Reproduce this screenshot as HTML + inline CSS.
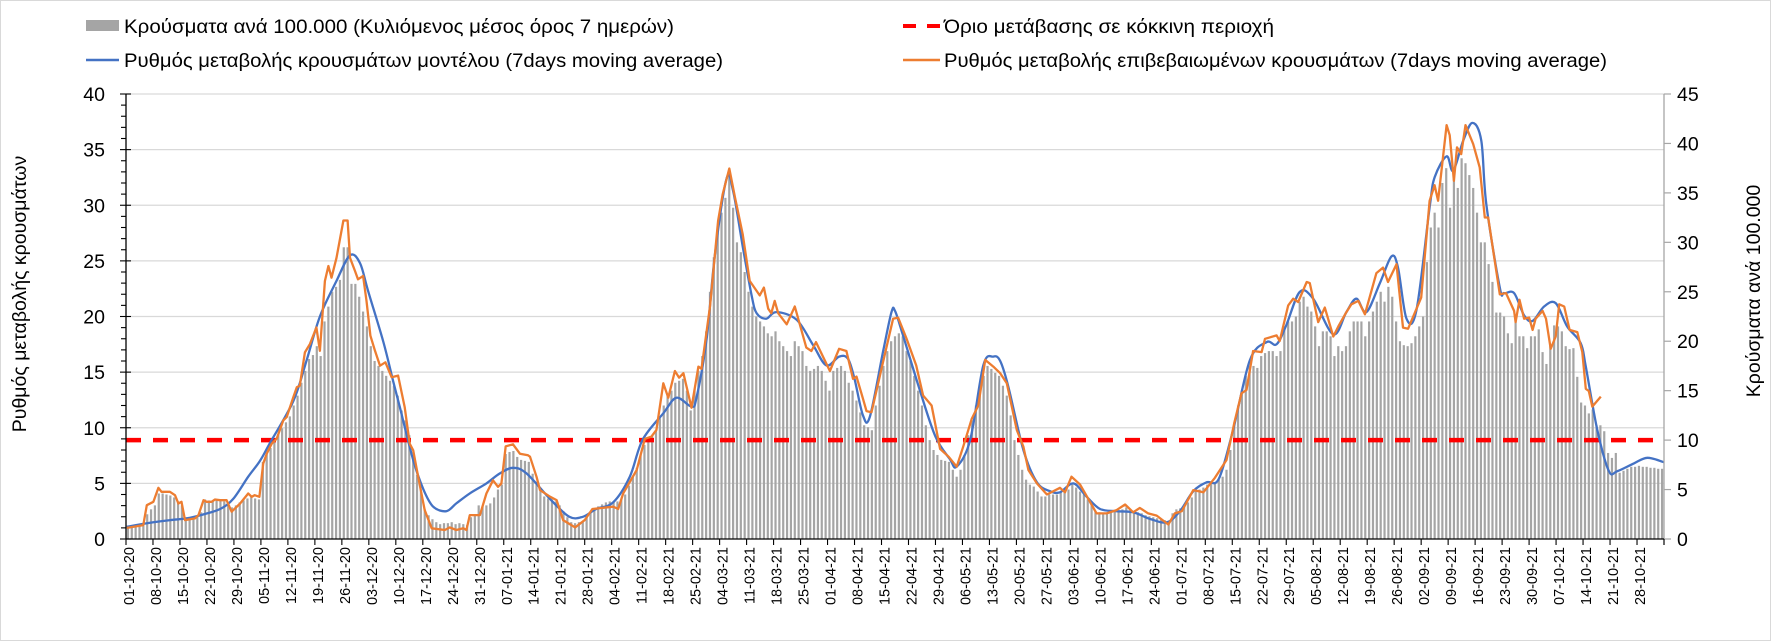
<!DOCTYPE html>
<html><head><meta charset="utf-8">
<style>
html,body{margin:0;padding:0;background:#fff;}
svg{display:block;font-family:"Liberation Sans","DejaVu Sans",sans-serif;}
</style></head>
<body>
<svg id="chart" width="1771" height="641" viewBox="0 0 1771 641" xmlns="http://www.w3.org/2000/svg">
<rect x="0.5" y="0.5" width="1770" height="640" fill="#fff" stroke="#d9d9d9"/>
<g id="legend" font-size="19.5" fill="#000">
  <g>
    <rect x="86" y="20" width="33" height="11" fill="#a5a5a5"/>
    <text x="124" y="33" textLength="550" lengthAdjust="spacingAndGlyphs">Κρούσματα ανά 100.000 (Κυλιόμενος μέσος όρος 7 ημερών)</text>
  </g>
  <g>
    <line x1="86" y1="60" x2="119" y2="60" stroke="#4472c4" stroke-width="2.5"/>
    <text x="124" y="67" textLength="599" lengthAdjust="spacingAndGlyphs">Ρυθμός μεταβολής κρουσμάτων μοντέλου (7days moving average)</text>
  </g>
  <g>
    <line x1="903" y1="26" x2="940" y2="26" stroke="#ff0000" stroke-width="4" stroke-dasharray="13,11"/>
    <text x="944" y="33" textLength="330" lengthAdjust="spacingAndGlyphs">Όριο μετάβασης σε κόκκινη περιοχή</text>
  </g>
  <g>
    <line x1="903" y1="60" x2="940" y2="60" stroke="#ed7d31" stroke-width="2.5"/>
    <text x="944" y="67" textLength="663" lengthAdjust="spacingAndGlyphs">Ρυθμός μεταβολής επιβεβαιωμένων κρουσμάτων (7days moving average)</text>
  </g>
</g>
<text font-size="19.5" text-anchor="middle" transform="translate(26,294) rotate(-90)">Ρυθμός μεταβολής κρουσμάτων</text>
<text font-size="19.5" text-anchor="middle" transform="translate(1760,291) rotate(-90)">Κρούσματα ανά 100.000</text>
<g id="grid"></g>
<g id="bars"></g>
<g id="thresh"></g>
<g id="lines"></g>
<g id="axes"></g>
</svg>
<script>
const leftTicks = [0,5,10,15,20,25,30,35,40];
const rightTicks = [0,5,10,15,20,25,30,35,40,45];
const dateLabels = ["01-10-20","08-10-20","15-10-20","22-10-20","29-10-20","05-11-20","12-11-20","19-11-20","26-11-20","03-12-20","10-12-20","17-12-20","24-12-20","31-12-20","07-01-21","14-01-21","21-01-21","28-01-21","04-02-21","11-02-21","18-02-21","25-02-21","04-03-21","11-03-21","18-03-21","25-03-21","01-04-21","08-04-21","15-04-21","22-04-21","29-04-21","06-05-21","13-05-21","20-05-21","27-05-21","03-06-21","10-06-21","17-06-21","24-06-21","01-07-21","08-07-21","15-07-21","22-07-21","29-07-21","05-08-21","12-08-21","19-08-21","26-08-21","02-09-21","09-09-21","16-09-21","23-09-21","30-09-21","07-10-21","14-10-21","21-10-21","28-10-21"];
const thresholdCases = 10;
const casesPer100k = [
1.1,1.2,1.3,1.3,1.4,2.5,3.0, 3.4,4.6,4.6,4.5,4.4,4.2,3.8, 3.4,2.2,2.0,2.1,2.4,2.7,4.0,
3.9,3.8,3.9,4.0,3.8,3.6,3.2, 3.4,3.7,3.9,4.1,4.3,4.1,4.0, 7.8,8.6,9.2,10.0,10.6,11.2,11.8,
12.4,13.5,14.5,15.8,17.0,18.2,18.6, 19.5,18.5,22.0,23.5,25.0,25.5,26.2, 29.5,29.5,25.8,25.8,24.5,23.0,21.5,
19.5,18.0,17.5,17.0,16.5,16.0,15.5, 14.5,13.0,12.0,10.5,8.5,6.5,5.0, 3.0,2.4,2.0,1.7,1.5,1.6,1.6,
1.7,1.5,1.6,1.5,1.4,2.2,2.4, 3.4,3.3,3.4,3.6,4.2,5.0,5.5, 8.6,8.8,8.9,8.3,8.0,7.9,7.8,
6.6,5.8,5.0,4.3,4.1,4.0,3.8, 3.4,2.8,2.2,1.7,1.6,1.7,1.8, 2.2,2.7,3.0,3.3,3.5,3.7,3.8,
3.8,3.8,4.0,4.5,5.4,6.3,7.2, 8.5,9.5,10.2,10.5,11.0,12.2,13.5, 14.5,15.0,15.8,16.0,16.2,15.0,13.0,
15.2,17.0,18.5,21.0,25.0,28.5,31.0, 33.0,34.5,37.0,33.5,30.0,29.0,27.0, 25.0,23.5,22.5,22.0,21.5,20.8,20.5,
21.0,20.0,19.5,19.0,18.5,20.0,19.5, 19.0,17.5,17.0,17.2,17.5,17.0,16.0, 15.0,17.0,17.3,17.5,17.0,15.8,15.0,
14.0,12.8,11.5,11.3,11.0,13.5,15.5, 17.5,19.0,20.0,20.5,20.8,20.5,19.0, 18.0,16.5,15.0,13.5,11.5,10.0,9.0,
8.5,8.0,7.9,7.8,7.0,6.3,7.0, 8.5,10.5,12.0,13.5,15.0,16.5,17.5, 17.2,16.8,16.5,15.5,14.5,12.5,10.0,
8.5,7.0,6.0,5.5,5.3,4.8,4.3, 4.3,4.5,4.5,4.5,4.8,5.0,5.0, 5.5,5.2,4.8,4.5,4.0,3.5,2.8,
2.7,2.6,2.6,2.8,2.8,2.9,3.0, 3.2,2.9,2.8,2.7,2.6,2.4,2.3, 2.2,2.1,2.0,1.9,1.8,2.6,3.0,
3.1,3.3,3.7,4.2,4.8,5.0,5.2, 5.5,5.6,5.7,6.0,6.3,7.0,9.0, 11.5,13.5,15.0,16.5,17.5,17.5,17.3,
18.5,18.8,19.0,19.0,18.5,19.0,21.5, 22.0,22.0,22.5,24.0,24.5,23.5,23.0, 21.5,19.5,21.0,21.0,20.5,18.5,19.5,
19.0,19.5,21.0,22.0,22.0,22.0,20.5, 22.0,23.0,24.0,25.0,24.0,25.5,24.5, 22.0,20.0,19.6,19.5,19.8,20.5,21.5,
22.5,28.0,31.5,33.0,31.5,36.0,37.5, 33.5,37.0,35.5,38.5,38.0,36.8,35.5, 33.0,30.0,30.0,27.8,26.0,22.9,22.9,
22.5,20.8,19.8,22.1,20.5,20.5,19.3, 20.5,20.5,21.2,18.9,17.7,19.6,21.6, 21.5,21.0,19.5,19.2,19.3,16.4,13.8,
13.5,12.7,13.1,11.5,11.5,10.9,8.7, 8.2,8.7,6.7,6.9,7.1,7.3,7.3, 7.4,7.3,7.3,7.2,7.2,7.1,7.1];
const modelDays = [0.2,7.1,11.5,15.7,20,24.4,27.8,31.7,34.7,37.3,43.4,46.8,50.3,54.6,58.1,60.7,62.8,66.7,69.3,71,74.5,77.1,79.7,83.1,85.7,89.2,93.5,97,100.4,103.9,
110,115,118.5,122,126.4,130.7,134,139.4,142.8,146.7,148,150.6,152.8,155.8,157.5,160,162.3,163.6,166.1,168.7,174,178.3,181.7,185,187.3,189,191.2,193,196.5,198.6,199.5,201.5,206,210,213.7,
215.5,219,222.4,225,226.8,228.9,232.8,236.3,239.7,242.3,245.8,249.2,252.7,257,261.3,265.7,270,273.4,276.9,280.3,283.5,287.2,291.6,295.9,298.5,301,304.5,308,313.2,316.6,319.2,321.8,325.3,328.3,330,332.2,334.8,338.2,339.5,342.6,344.3,346.9,349.3,351.6,352.9,356.4,
357.5,360.1,362.7,364.9,367.9,370.9,373.9,377.4,378.7,381.7,384.7,386.9,391.2,394.7,399];
const modelRate = [1.1,1.5,1.7,1.85,2.2,2.7,3.6,5.6,7.0,8.6,12.4,16.0,20.0,23.2,25.5,24.8,22.3,17.8,14.2,11.9,7.1,4.5,2.9,2.5,3.2,4.1,5.0,5.9,6.4,5.9,
3.6,2.0,2.0,2.7,3.3,5.6,8.9,11.3,12.7,11.9,12.7,17.9,25.6,32.4,31.3,26.3,21.9,20.3,19.8,20.4,19.7,17.4,15.6,16.4,16.2,14.4,11.1,11.0,17.0,20.4,20.5,18.4,13.3,9.2,7.2,
6.5,8.9,15.6,16.4,16.0,13.7,8.0,5.1,4.3,4.2,5.0,3.8,2.7,2.5,2.4,1.8,1.5,2.5,4.3,5.1,5.4,9.8,16.1,17.7,17.5,19.2,22.2,21.6,18.4,20.4,21.6,20.4,23.0,25.4,24.4,19.8,20.6,29.8,32.5,34.4,33.1,35.8,37.4,35.8,30.1,22.6,
22.1,22.1,20.1,19.6,20.9,21.2,19.1,17.6,15.5,9.8,6.1,6.1,6.8,7.3,6.9];
const confirmedDays = [0.2,4.5,5.4,7.1,8.4,9.2,11.4,12.7,13.6,14.4,15.3,17.9,18.8,20.1,20.9,22.2,23.1,24.4,26.1,27.4,29.6,31.7,32.6,33.4,34.6,35.6,36.5,37.8,39.1,40.8,41.7,43.4,44.3,45.1,46.4,47.7,49.4,50.3,51.6,52.5,53.3,54.6,56.4,57.5,58.1,59.4,60.2,61.5,62.4,63.4,64.6,65.9,67.3,68.9,70.6,72.3,73.6,74.5,75.8,77.5,79.3,82.7,84,85.7,87.5,88.3,89.2,91.8,93.5,95.2,96.5,97.4,98.5,100.4,102.2,104.3,
104.8,106.5,107.4,110,111.7,113.4,116.5,119,121,126.4,127.7,129,132.5,134.6,136.3,137.6,139.4,140.7,142.4,143.5,144.6,146.7,148.5,149.3,151.5,153.6,154.8,156.5,158,160,161.8,164.4,165.5,166.6,167.4,168.3,169.2,171.4,173.5,176.5,177.8,179,182.6,185,186.9,188.6,189.5,191.2,192.1,193.4,196,199,200.3,202.5,205,206.8,209,211.2,
213.4,215.5,217.2,219.4,221.1,222.9,225,226.8,228.5,231.1,232.8,234.1,236.3,238.9,242.3,243.6,245.3,247.5,251.8,254.4,257,259.2,261.3,263,265.2,267.4,270.4,272.1,273.9,276.9,279.5,282.5,285.5,287.5,289.4,290.7,292.4,294.6,295.5,298.5,299.3,301.5,302.8,304.1,306.3,307.1,309.3,311,313.2,314.5,316.6,317.9,319.7,321.4,324.4,326.1,327.4,329.6,331.3,332.6,336,338.2,339.5,340.4,342.6,343.4,344.5,345.3,346.4,347.5,349.5,351.2,352.5,353.4,356.4,
358,360.1,360.5,361.5,362.7,364,364.9,365.7,367.5,368.4,369.6,370.9,371.8,373.1,374.5,376.5,377.8,378.7,379.5,380.4,382.6];
const confirmedRate = [1.0,1.25,3.04,3.34,4.6,4.24,4.24,3.94,3.19,3.34,1.7,1.85,2.15,3.49,3.34,3.34,3.55,3.49,3.49,2.45,3.19,4.09,3.79,3.94,3.79,6.78,7.67,8.57,9.02,10.66,10.96,12.75,13.64,13.79,16.77,17.52,19.01,16.92,23.19,24.54,23.49,25.28,28.63,28.63,25.28,24.09,23.34,23.64,21.4,18.27,16.92,15.58,15.88,14.54,14.69,11.85,8.57,7.97,5.58,2.6,0.96,0.81,1.04,0.81,0.96,0.81,2.15,2.15,4.09,5.28,4.69,4.99,8.33,8.51,7.67,7.52,
7.4,5.6,4.4,3.8,3.5,1.7,1.04,1.7,2.7,2.9,2.7,4.1,6.2,9.0,9.2,9.8,14.0,12.7,15.1,14.5,14.9,11.8,15.5,15.3,20.9,28.6,31.0,33.3,30.7,27.4,23.2,21.9,22.6,20.7,20.3,21.4,20.3,19.3,20.9,17.2,16.9,17.7,15.1,17.1,16.9,14.4,14.6,12.6,11.5,11.4,15.3,19.8,19.9,18.0,15.6,12.9,12.0,8.1,
7.4,6.5,8.3,10.8,12.0,16.1,15.5,14.9,14.0,9.8,8.3,6.2,5.0,4.0,4.6,4.2,5.6,4.9,2.3,2.3,2.6,3.1,2.4,2.8,2.3,2.1,1.3,2.3,2.5,4.4,4.2,5.5,7.1,10.4,13.1,13.4,16.9,16.8,18.0,18.3,17.8,21.0,21.6,21.3,23.1,23.0,19.5,20.8,18.2,19.1,20.4,21.1,21.4,20.2,23.9,24.4,23.1,24.7,19.0,18.9,21.7,30.4,31.8,30.4,37.2,36.3,32.2,35.2,34.6,37.2,35.5,33.4,28.9,28.9,22.0,
22.1,20.5,19.5,21.5,19.8,19.9,18.8,19.8,20.5,19.8,17.1,18.2,21.1,20.9,18.8,18.6,16.8,13.5,13.3,11.9,12.8];

const NS = "http://www.w3.org/2000/svg";
const X0 = 126, X1 = 1664, Y0 = 539, YTOP = 94;
const nDays = 399;
const dayW = (X1 - X0) / nDays;
const xDay = d => X0 + d * dayW;
const xCat = i => X0 + (i + 0.5) * dayW;
const yL = v => Y0 - v * (Y0 - YTOP) / 40;
const yR = v => Y0 - v * (Y0 - YTOP) / 45;
function mk(tag, attrs, parent) {
  const e = document.createElementNS(NS, tag);
  for (const k in attrs) e.setAttribute(k, attrs[k]);
  parent.appendChild(e);
  return e;
}
const grid = document.getElementById('grid');
const bars = document.getElementById('bars');
const thresh = document.getElementById('thresh');
const lines = document.getElementById('lines');
const axes = document.getElementById('axes');

leftTicks.forEach(v => {
  if (v === 0) return;
  const g = mk('line', {x1: X0, x2: X1, y1: yL(v), y2: yL(v), stroke: '#d9d9d9', 'stroke-width': 1.3}, grid);
  
  
});

casesPer100k.forEach((v, i) => {
  const r = mk('rect', {x: xCat(i) - 1.1, y: yR(v), width: 2.2, height: Y0 - yR(v), fill: '#a5a5a5'}, bars);
  
  
});

const th = mk('line', {x1: X0, x2: X1, y1: yR(thresholdCases), y2: yR(thresholdCases), stroke: '#ff0000', 'stroke-width': 4.5, 'stroke-dasharray': '15,12'}, thresh);



function path(days, vals) {
  return days.map((d, i) => (i ? 'L' : 'M') + xDay(d).toFixed(1) + ',' + yL(vals[i]).toFixed(1)).join(' ');
}
function smoothPath(days, vals) {
  const p = days.map((d, i) => [xDay(d), yL(vals[i])]);
  let s = 'M' + p[0][0].toFixed(1) + ',' + p[0][1].toFixed(1);
  for (let i = 0; i < p.length - 1; i++) {
    const p0 = p[Math.max(0, i - 1)], p1 = p[i], p2 = p[i + 1], p3 = p[Math.min(p.length - 1, i + 2)];
    const c1x = p1[0] + (p2[0] - p0[0]) / 6, c1y = p1[1] + (p2[1] - p0[1]) / 6;
    const c2x = p2[0] - (p3[0] - p1[0]) / 6, c2y = p2[1] - (p3[1] - p1[1]) / 6;
    s += ` C${c1x.toFixed(1)},${c1y.toFixed(1)} ${c2x.toFixed(1)},${c2y.toFixed(1)} ${p2[0].toFixed(1)},${p2[1].toFixed(1)}`;
  }
  return s;
}
const pb = mk('path', {d: smoothPath(modelDays, modelRate), fill: 'none', stroke: '#4472c4', 'stroke-width': 2.3, 'stroke-linejoin': 'round'}, lines);


const po = mk('path', {d: path(confirmedDays, confirmedRate), fill: 'none', stroke: '#ed7d31', 'stroke-width': 2.3, 'stroke-linejoin': 'round'}, lines);



const la = mk('line', {x1: X0, x2: X0, y1: YTOP, y2: Y0, stroke: '#000', 'stroke-width': 1.3}, axes);


for (let v = 0; v <= 40; v++) {
  const major = v % 5 === 0;
  mk('line', {x1: major ? X0 - 6 : X0 - 5, x2: major ? X0 + 5 : X0, y1: yL(v), y2: yL(v), stroke: '#000', 'stroke-width': 1.1}, axes);
}
leftTicks.forEach(v => {
  const t = mk('text', {x: 105, y: yL(v) + 7, 'text-anchor': 'end', 'font-size': 19.5, fill: '#000'}, axes);
  t.textContent = v;
  
  
});
const ra = mk('line', {x1: X1, x2: X1, y1: YTOP, y2: Y0, stroke: '#a6a6a6', 'stroke-width': 1.3}, axes);


rightTicks.forEach(v => {
  mk('line', {x1: X1, x2: X1 + 7, y1: yR(v), y2: yR(v), stroke: '#a6a6a6', 'stroke-width': 1.2}, axes);
  const t = mk('text', {x: 1677, y: yR(v) + 7, 'font-size': 19.5, fill: '#000'}, axes);
  t.textContent = v;
  
  
});
const xa = mk('line', {x1: X0, x2: X1, y1: Y0, y2: Y0, stroke: '#000', 'stroke-width': 1.3}, axes);


for (let d = 0; d <= nDays; d += 7) {
  mk('line', {x1: xDay(d), x2: xDay(d), y1: Y0, y2: Y0 + 6, stroke: '#000', 'stroke-width': 1.1}, axes);
}
mk('line', {x1: X1, x2: X1, y1: Y0, y2: Y0 + 6, stroke: '#000', 'stroke-width': 1.1}, axes);
dateLabels.forEach((lab, k) => {
  const x = xDay(k * 7) + 8;
  const t = mk('text', {x: 0, y: 0, 'text-anchor': 'end', 'font-size': 14.5, fill: '#000', transform: `translate(${x.toFixed(1)},${Y0 + 8}) rotate(-90)`}, axes);
  t.textContent = lab;
  
  
});
</script>
</body></html>
